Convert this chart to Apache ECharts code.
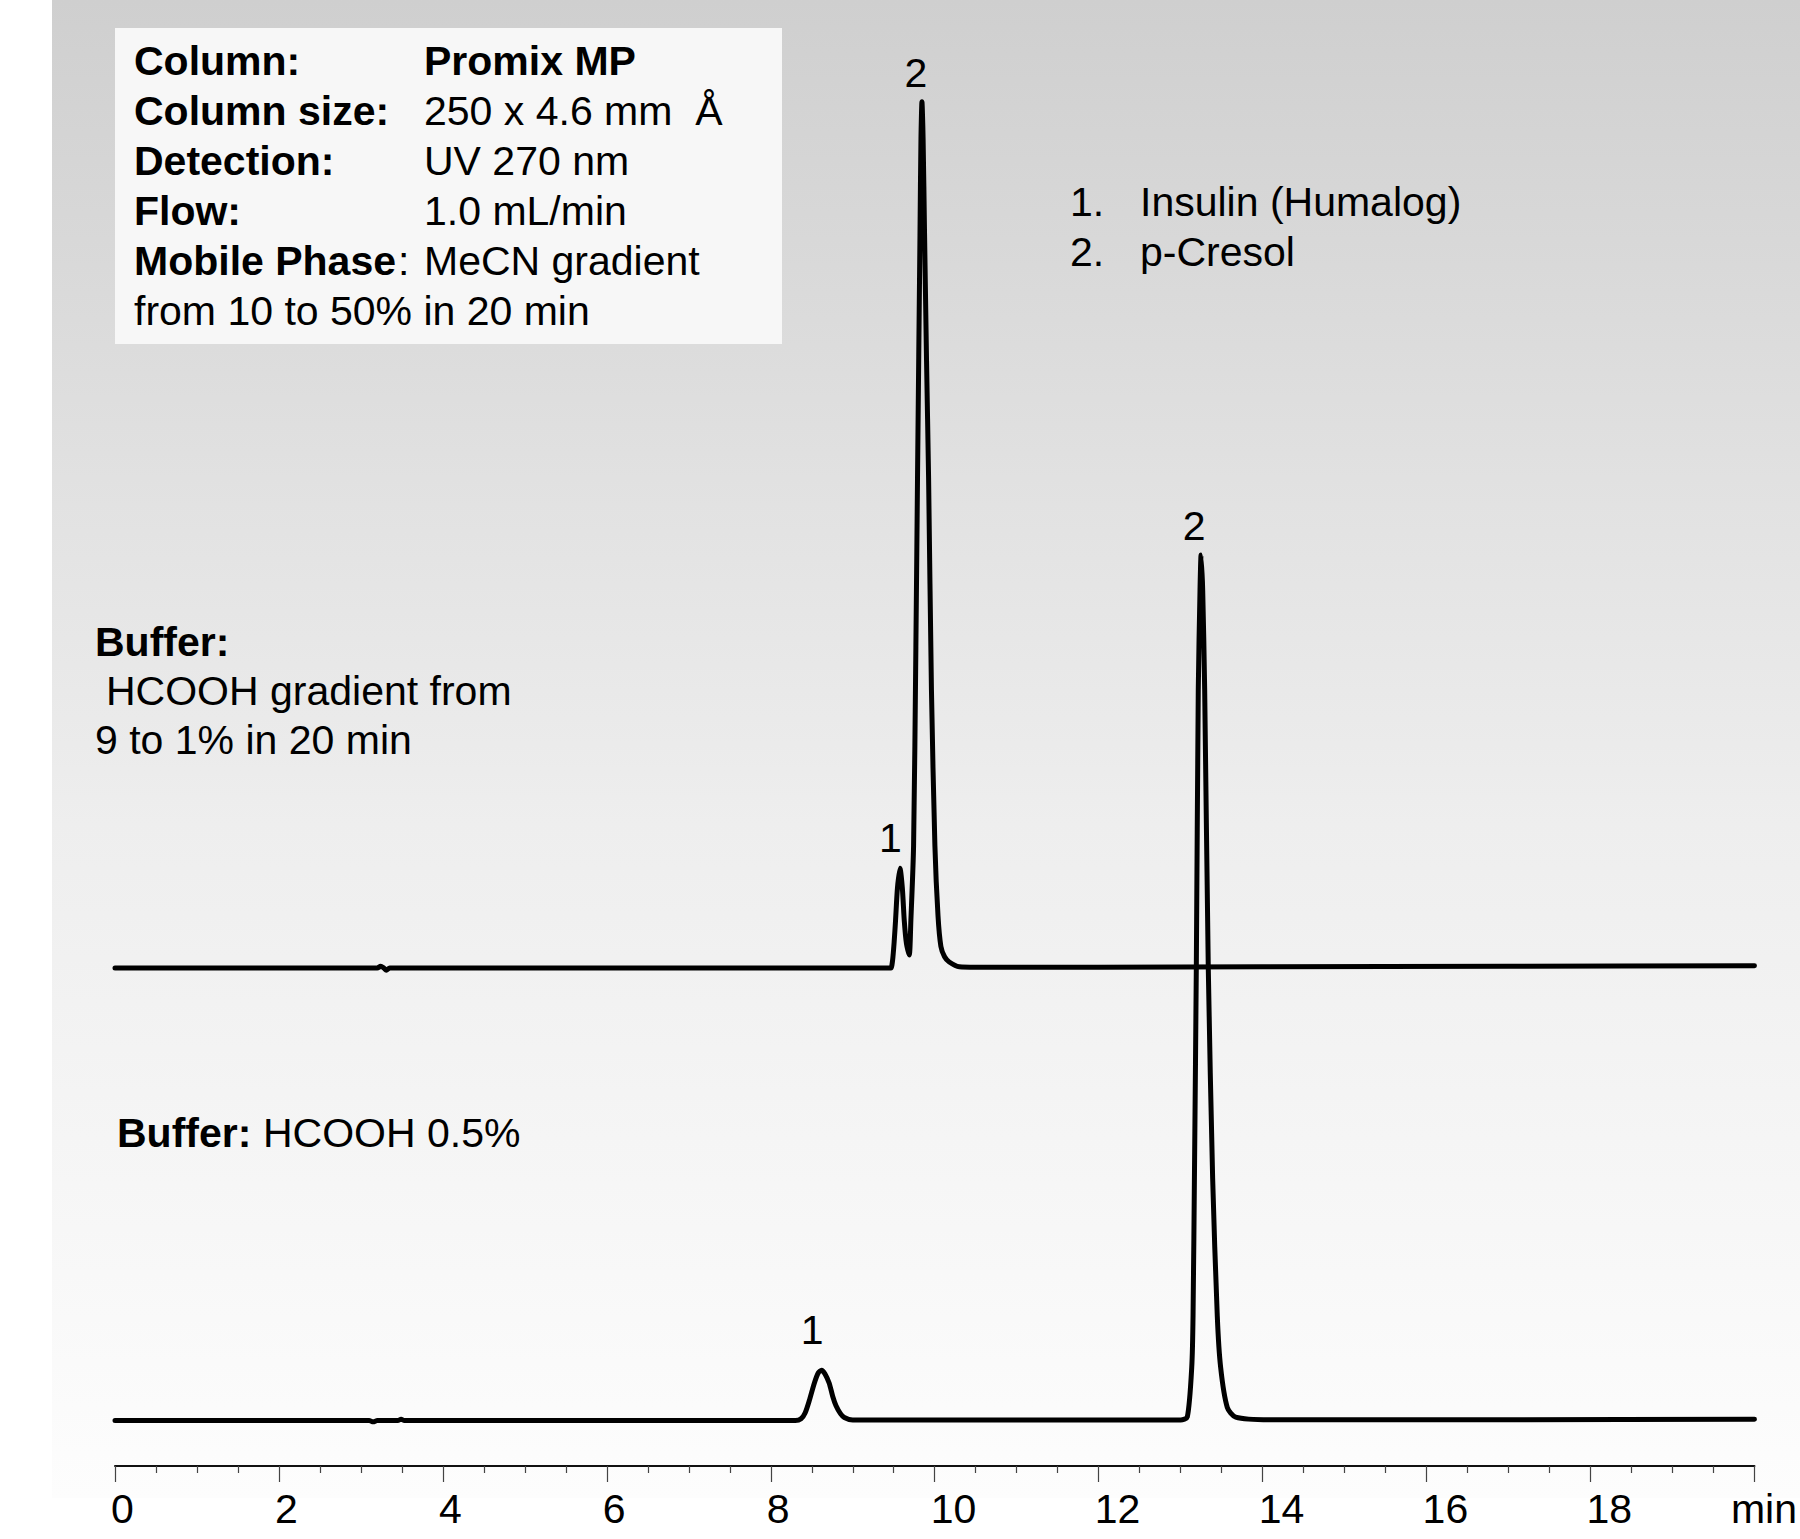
<!DOCTYPE html>
<html>
<head>
<meta charset="utf-8">
<script src="https://cdn.jsdelivr.net/npm/echarts@6/dist/echarts.min.js"></script>
<style>
html,body{margin:0;padding:0;background:#ffffff;}
#c{width:1800px;height:1539px;}
</style>
</head>
<body>
<div id="c"></div>
<script>
// ---------- DATA ----------
// x axis tick labels (minutes)
const xTickLabels = ['0','2','4','6','8','10','12','14','16','18'];
const xUnit = 'min';

// Trace A: buffer = HCOOH gradient 9 -> 1 % in 20 min (upper trace)
const gradientTime = [0, 3.0, 3.20, 3.24, 3.28, 3.31, 3.35, 3.45, 6.0, 9.0, 9.44,
  9.466, 9.486, 9.505, 9.522, 9.545, 9.576, 9.605, 9.628, 9.655, 9.689,
  9.709, 9.742, 9.770, 9.790, 9.820, 9.832, 9.844, 9.858, 9.876, 9.900, 9.925, 9.960,
  10.002, 10.040, 10.075, 10.120, 10.177, 10.300, 10.500, 12.0, 14.0, 17.0, 20.0];
const gradientSignal = [0, 0, 0, 2, 0, -2.5, 0, 0, 0, 0, 0,
  0, 9, 30, 55, 92, 115, 92, 55, 28, 15,
  55, 141, 370, 565, 845, 956, 998, 956, 845, 700, 565, 320,
  141, 60, 25, 13, 7, 1.5, 1, 1, 1.5, 2, 2.5];

// Trace B: buffer = HCOOH 0.5 % (lower trace)
const isocraticTime = [0, 3.10, 3.15, 3.20, 3.45, 3.49, 3.53, 6.0, 8.30,
  8.369, 8.420, 8.470, 8.531, 8.580, 8.620, 8.660, 8.713, 8.755, 8.796, 8.850, 8.897, 9.00,
  11.0, 13.00, 13.081, 13.135, 13.151, 13.170, 13.191, 13.215, 13.236, 13.249, 13.269, 13.293,
  13.337, 13.390, 13.447, 13.488, 13.569, 13.671, 14.08, 17.0, 20.0];
const isocraticSignal = [0, 0, -1.5, 0, 0, 1.5, 0, 0, 0,
  2, 9, 23, 43, 55, 58, 54, 43, 28, 17, 8, 3.5, 0.5,
  0.5, 0.5, 4, 61, 120, 300, 521, 842, 956, 997, 956, 842,
  521, 280, 120, 61, 15, 4, 1, 1, 1.5];

// Peak annotations: [label, retention time, apex signal]
const gradientPeakLabels = ['1', '2'];
const gradientPeakTimes = [9.576, 9.844];
const gradientPeakValues = [115, 998];
const isocraticPeakLabels = ['1', '2'];
const isocraticPeakTimes = [8.62, 13.249];
const isocraticPeakValues = [58, 997];

// Legend of compounds
const compoundNumbers = ['1.', '2.'];
const compoundNames = ['Insulin (Humalog)', 'p-Cresol'];

// Method conditions
const conditionKeys = ['Column:', 'Column size:', 'Detection:', 'Flow:', 'Mobile Phase'];
const conditionValues = ['Promix MP', '250 x 4.6 mm  Å', 'UV 270 nm', '1.0 mL/min', 'MeCN gradient'];
const conditionExtra = 'from 10 to 50% in 20 min';

// ---------- CHART ----------
const FONT = '"Liberation Sans", Arial, Helvetica, sans-serif';
const FS = 41;
const chart = echarts.init(document.getElementById('c'), null, {renderer: 'svg', width: 1800, height: 1539});

function mid(baseline) { return baseline - 0.3465 * FS; }
function txt(text, x, baseline, bold, align) {
  return {
    type: 'text', x: x, y: mid(baseline), z: 5,
    style: {
      text: text, fill: '#000', fontSize: FS, fontFamily: FONT,
      fontWeight: bold ? 'bold' : 'normal',
      align: align || 'left', verticalAlign: 'middle'
    }
  };
}

const graphics = [];
// background gradient panel
graphics.push({
  type: 'rect', z: -10, silent: true,
  shape: {x: 52, y: 0, width: 1748, height: 1498},
  style: {
    fill: {type: 'linear', x: 0, y: 0, x2: 0, y2: 1,
      colorStops: [{offset: 0, color: '#cfcfcf'}, {offset: 0.55, color: '#eeeeee'}, {offset: 1, color: '#fdfdfd'}]}
  }
});
// conditions box
graphics.push({type: 'rect', z: 1, silent: true, shape: {x: 115, y: 28, width: 667, height: 316}, style: {fill: '#f7f7f7'}});
const boxBase = [75, 125, 175, 225, 275];
conditionKeys.forEach((k, i) => {
  graphics.push(txt(k, 134, boxBase[i], true));
  graphics.push(txt(conditionValues[i], 424, boxBase[i], i === 0));
});
graphics.push(txt(':', 398, boxBase[4], false));
graphics.push(txt(conditionExtra, 134, 325, false));

// compound legend
compoundNumbers.forEach((n, i) => {
  graphics.push(txt(n, 1070, 216 + 50 * i, false));
  graphics.push(txt(compoundNames[i], 1140, 216 + 50 * i, false));
});

// buffer annotations
graphics.push(txt('Buffer:', 95, 656, true));
graphics.push(txt('HCOOH gradient from', 106, 705, false));
graphics.push(txt('9 to 1% in 20 min', 95, 754, false));
graphics.push(txt('Buffer:', 117, 1147, true));
graphics.push(txt('HCOOH 0.5%', 263, 1147, false));

// label placement styles (pixels) per peak label
const peakLabelStyle = {
  g1: {distance: 10, offset: [-9.5, 0]},
  g2: {distance: 8, offset: [-6, 0]},
  i1: {distance: 20, offset: [-9.5, 0]},
  i2: {distance: 9, offset: [-7, 0]}
};
function markPts(labels, times, values, prefix) {
  return {
    symbol: 'circle', symbolSize: 0, silent: true, animation: false,
    label: {show: true, position: 'top', formatter: '{b}', color: '#000', fontSize: FS, fontFamily: FONT},
    data: labels.map((l, i) => ({
      name: l, coord: [times[i], values[i]],
      label: peakLabelStyle[prefix + l]
    }))
  };
}

const option = {
  animation: false,
  backgroundColor: '#ffffff',
  grid: {left: 115, right: 44, top: 20, bottom: 73, containLabel: false},
  xAxis: {
    type: 'value', min: 0, max: 20, interval: 2,
    name: xUnit, nameLocation: 'end', nameGap: 9.5,
    nameTextStyle: {fontSize: FS, fontFamily: FONT, color: '#000', align: 'center', verticalAlign: 'top', padding: [22, 0, 0, 0]},
    axisLine: {show: true, onZero: false, lineStyle: {color: '#111', width: 2}},
    axisTick: {show: true, length: 16, lineStyle: {color: '#444', width: 1.2}},
    minorTick: {show: true, splitNumber: 4, length: 7, lineStyle: {color: '#444', width: 1.2}},
    splitLine: {show: false},
    axisLabel: {
      show: true, margin: 22, fontSize: FS, fontFamily: FONT, color: '#000',
      align: 'left', padding: [0, 0, 0, -4],
      formatter: function (v) { const i = Math.round(v / 2); return (v % 2 === 0 && i < xTickLabels.length) ? xTickLabels[i] : ''; }
    }
  },
  yAxis: [
    {type: 'value', show: false, min: -573.7, max: 1092.2, splitLine: {show: false}},
    {type: 'value', show: false, min: -52.4, max: 1613.5, splitLine: {show: false}}
  ],
  graphic: graphics,
  series: [
    {
      name: 'HCOOH gradient', type: 'line', yAxisIndex: 0, z: 3,
      data: gradientTime.map((t, i) => [t, gradientSignal[i]]),
      showSymbol: false, symbol: 'none', smooth: 0.25,
      lineStyle: {color: '#000', width: 5, join: 'round', cap: 'round'},
      markPoint: markPts(gradientPeakLabels, gradientPeakTimes, gradientPeakValues, 'g')
    },
    {
      name: 'HCOOH 0.5%', type: 'line', yAxisIndex: 1, z: 3,
      data: isocraticTime.map((t, i) => [t, isocraticSignal[i]]),
      showSymbol: false, symbol: 'none', smooth: 0.25,
      lineStyle: {color: '#000', width: 5, join: 'round', cap: 'round'},
      markPoint: markPts(isocraticPeakLabels, isocraticPeakTimes, isocraticPeakValues, 'i')
    }
  ]
};
chart.setOption(option);
</script>
</body>
</html>
